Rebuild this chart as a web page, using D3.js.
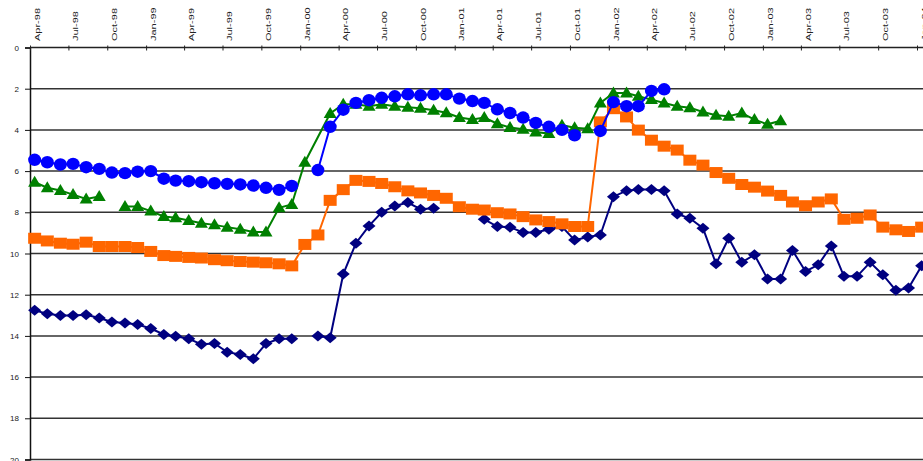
<!DOCTYPE html>
<html>
<head>
<meta charset="utf-8">
<script src="https://cdn.jsdelivr.net/npm/d3@7"></script>
<style>
  body { margin: 0; background: #fff; }
  svg { display: block; }
  text { font-family: "Liberation Sans", Arial, sans-serif; fill: #222; }
</style>
</head>
<body>
<svg id="chart"></svg>
<script>
// months Apr-98 .. Jan-04, one value per month (null = no data)
const firstMonth = new Date(1998, 3, 1);
const lastMonth = new Date(2004, 0, 1);

const tickLabels = ["Apr-98", "Jul-98", "Oct-98", "Jan-99", "Apr-99", "Jul-99", "Oct-99",
  "Jan-00", "Apr-00", "Jul-00", "Oct-00", "Jan-01", "Apr-01", "Jul-01", "Oct-01",
  "Jan-02", "Apr-02", "Jul-02", "Oct-02", "Jan-03", "Apr-03", "Jul-03", "Oct-03", "Jan-04"];

const yTicks = [0, 2, 4, 6, 8, 10, 12, 14, 16, 18, 20];

const blueValues = [5.45, 5.57, 5.68, 5.65, 5.81, 5.89, 6.07, 6.1, 6.03, 6.0,
  6.37, 6.46, 6.49, 6.54, 6.59, 6.62, 6.65, 6.7, 6.81, 6.91,
  6.72, null, 5.95, 3.85, 3.02, 2.69, 2.56, 2.44, 2.37, 2.27,
  2.32, 2.27, 2.27, 2.48, 2.6, 2.69, 3.0, 3.18, 3.4, 3.66,
  3.85, 4.0, 4.26, null, 4.05, 2.65, 2.85, 2.85, 2.11, 2.03];

const greenValues = [6.54, 6.81, 6.94, 7.14, 7.35, 7.23, null, 7.72, 7.72, 7.94,
  8.2, 8.27, 8.4, 8.53, 8.61, 8.72, 8.82, 8.96, 8.96, 7.78,
  7.62, 5.57, null, 3.2, 2.75, 2.75, 2.85, 2.75, 2.85, 2.9,
  2.95, 3.05, 3.17, 3.4, 3.5, 3.4, 3.7, 3.88, 3.97, 4.1,
  4.18, 3.77, 3.89, 3.94, 2.69, 2.21, 2.21, 2.37, 2.53, 2.69,
  2.85, 2.92, 3.13, 3.29, 3.34, 3.18, 3.5, 3.73, 3.56];

const orangeValues = [9.26, 9.39, 9.5, 9.55, 9.45, 9.66, 9.66, 9.66, 9.71, 9.9,
  10.1, 10.14, 10.19, 10.22, 10.3, 10.35, 10.39, 10.42, 10.45, 10.5,
  10.6, 9.56, 9.1, 7.42, 6.9, 6.45, 6.5, 6.6, 6.76, 6.96,
  7.06, 7.18, 7.32, 7.73, 7.85, 7.89, 8.02, 8.08, 8.21, 8.37,
  8.45, 8.56, 8.69, 8.69, 3.61, 2.97, 3.37, 4.01, 4.5, 4.79,
  4.98, 5.47, 5.71, 6.07, 6.35, 6.65, 6.78, 6.97, 7.18, 7.5,
  7.68, 7.5, 7.35, 8.34, 8.29, 8.13, 8.72, 8.85, 8.93, 8.72];

const navyValues = [12.76, 12.92, 13.01, 13.01, 12.97, 13.13, 13.32, 13.37, 13.45, 13.64,
  13.93, 14.02, 14.14, 14.41, 14.37, 14.79, 14.9, 15.11, 14.37, 14.14,
  14.14, null, 14.0, 14.09, 11.0, 9.5, 8.66, 8.0, 7.69, 7.53,
  7.85, 7.8, null, null, null, 8.34, 8.69, 8.72, 8.98, 8.98,
  8.82, 8.69, 9.35, 9.2, 9.1, 7.24, 6.95, 6.89, 6.89, 6.95,
  8.08, 8.29, 8.77, 10.5, 9.26, 10.43, 10.06, 11.24, 11.24, 9.85,
  10.87, 10.55, 9.63, 11.11, 11.11, 10.43, 11.03, 11.79, 11.68, 10.6];

// missing months the line is drawn straight across
const blueBridged = [];
const greenBridged = [22];
const orangeBridged = [];
const navyBridged = [];

const width = 923;
const height = 461;
const plotLeft = 30;
const plotTop = 47.5;
const plotBottom = 459.5;

const svg = d3.select("#chart")
  .attr("width", width)
  .attr("height", height);

const months = d3.timeMonth.range(firstMonth, d3.timeMonth.offset(lastMonth, 1));
const parseTick = d3.timeParse("%b-%y");

const x = d3.scaleTime()
  .domain([firstMonth, lastMonth])
  .range([plotLeft, 917]);

const y = d3.scaleLinear()
  .domain([0, 20])
  .range([plotTop, plotBottom]);

// horizontal grid
svg.append("g")
  .selectAll("line")
  .data(yTicks.slice(1))
  .join("line")
  .attr("x1", plotLeft)
  .attr("x2", width)
  .attr("y1", d => y(d))
  .attr("y2", d => y(d))
  .attr("stroke", "#333")
  .attr("stroke-width", 1.5);

// left axis
const yAxis = svg.append("g")
  .attr("transform", `translate(${plotLeft},0)`)
  .call(d3.axisLeft(y).tickValues(yTicks).tickSize(5).tickFormat(d3.format("d")));
yAxis.select(".domain").attr("stroke", "#111").attr("stroke-width", 1.5);
yAxis.selectAll(".tick line").attr("stroke", "#111");
yAxis.selectAll(".tick text")
  .attr("x", -11)
  .style("font-size", "8px")
  .style("font-family", "'Liberation Sans', Arial, sans-serif")
  .attr("fill", "#222");

// top axis
const tickDates = tickLabels.map(parseTick);
const xAxis = svg.append("g")
  .attr("transform", `translate(0,${plotTop})`)
  .call(d3.axisTop(x).tickValues(tickDates).tickSizeInner(3).tickSizeOuter(0).tickFormat(""));
xAxis.select(".domain")
  .attr("d", `M${plotLeft},0H${width}`)
  .attr("stroke", "#222")
  .attr("stroke-width", 1.5);
xAxis.selectAll(".tick line").attr("y1", 3).attr("y2", -2).attr("stroke", "#222");

svg.append("g")
  .selectAll("text")
  .data(tickLabels)
  .join("text")
  .attr("transform", d => `translate(${x(parseTick(d)) + 7},41) rotate(-90) scale(1,0.72)`)
  .attr("dy", "0.35em")
  .style("font-size", "11px")
  .text(d => d);

// series
const pointDate = m => d3.timeDay.offset(m, 11);

const seriesList = [
  { name: "navy", color: "#000080", values: navyValues, bridged: navyBridged, marker: "diamond" },
  { name: "orange", color: "#FF6600", values: orangeValues, bridged: orangeBridged, marker: "square" },
  { name: "green", color: "#008000", values: greenValues, bridged: greenBridged, marker: "triangle" },
  { name: "blue", color: "#0000FF", values: blueValues, bridged: blueBridged, marker: "circle" }
];

const markerPath = {
  diamond: "M0,-5.5L6.5,0L0,5.5L-6.5,0Z",
  square: "M-6.5,-5.5H6.5V5.5H-6.5Z",
  triangle: "M0,-6.5L6.5,4.5H-6.5Z",
  circle: "M-6.5,0A6.5,6.2 0 1,0 6.5,0A6.5,6.2 0 1,0 -6.5,0Z"
};

const line = d3.line()
  .defined(d => d.v !== null)
  .x(d => x(d.date))
  .y(d => y(d.v));

seriesList.forEach(s => {
  const pts = s.values.map((v, i) => ({ date: pointDate(months[i]), v: v === undefined ? null : v, i }));
  const linePts = pts.filter(d => d.v !== null || !s.bridged.includes(d.i));

  const g = svg.append("g").attr("class", s.name);

  g.append("path")
    .datum(linePts)
    .attr("fill", "none")
    .attr("stroke", s.color)
    .attr("stroke-width", 2)
    .attr("d", line);

  g.selectAll("path.marker")
    .data(pts.filter(d => d.v !== null))
    .join("path")
    .attr("class", "marker")
    .attr("transform", d => `translate(${x(d.date)},${y(d.v)})`)
    .attr("d", markerPath[s.marker])
    .attr("fill", s.color);
});
</script>
</body>
</html>
